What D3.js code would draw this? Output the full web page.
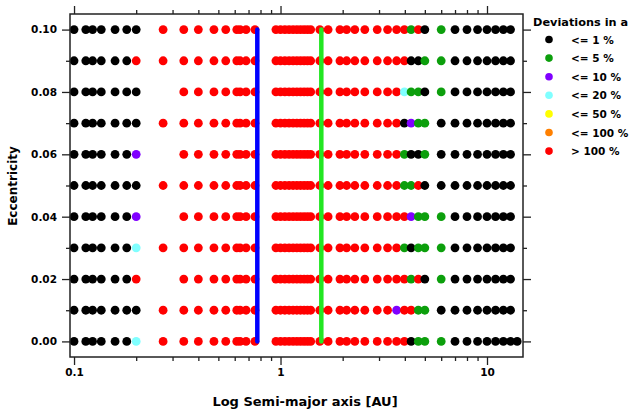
<!DOCTYPE html>
<html>
<head>
<meta charset="utf-8">
<style>
* { margin: 0; padding: 0; }
body { background: #fff; }
svg { display: block; }
text { font-family: "DejaVu Sans", sans-serif; font-weight: bold; fill: #000; }
</style>
</head>
<body>
<div id="chart"></div>
<script src="https://cdn.jsdelivr.net/npm/d3@7"></script>
<script>

// semi-major axis grid [AU]
var semiMajor = [
	0.1, 0.114, 0.123, 0.1355, 0.158, 0.18, 0.2, 0.27,
	0.34, 0.4, 0.476, 0.543, 0.614, 0.637, 0.681, 0.752,
	0.95, 1.0, 1.05, 1.1, 1.15, 1.2, 1.25, 1.3, 1.35, 1.4,
	1.55, 1.7, 1.94, 2.09, 2.29, 2.56, 2.94,
	3.3, 3.65, 3.98, 4.29, 4.65, 5.0, 6.0,
	7, 8, 9, 10, 11, 12, 13, 14
];

var eccentricities = [ 0.00, 0.01, 0.02, 0.03, 0.04, 0.05, 0.06, 0.07, 0.08, 0.09, 0.10 ];

// one code per semi-major value ('|' only groups them), '.' = no point
// k <=1%  g <=5%  p <=10%  c <=20%  y <=50%  o <=100%  r >100%
var rows = [
	'kkkkkkc|r|rrrrrrrr|rrrrrrrrrr|rrrrrrr|rrrkggg|kkkkkkkk',
	'kkkkkkk|r|rrrrrrrr|rrrrrrrrrr|rrrrrrr|rprrggk|kkkkkkk.',
	'kkkkkkr|.|rrrrrrrr|rrrrrrrrrr|rrrrrrr|rrrgrkg|kkkkkkk.',
	'kkkkkkc|r|rrrrrrrr|rrrrrrrrrr|rrrrrrr|rrgkggg|kkkkkkk.',
	'kkkkkkp|.|rrrrrrrr|rrrrrrrrrr|rrrrrrr|rrrpggg|kkkkkkk.',
	'kkkkkkk|r|rrrrrrrr|rrrrrrrrrr|rrrrrrr|rrggrkk|kkkkkkk.',
	'kkkkkkp|.|rrrrrrrr|rrrrrrrrrr|rrrrrrr|rrgkkgk|kkkkkkk.',
	'kkkkkkk|r|rrrrrrrr|rrrrrrrrrr|rrrrrrr|rrkpggk|kkkkkkk.',
	'kkkkkkk|.|rrrrrrrr|rrrrrrrrrr|rrrrrrr|rrcggkg|kkkkkkk.',
	'kkkkkkr|r|rrrrrrrr|rrrrrrrrrr|rrrrrrr|rrrkkgg|kkkkkkk.',
	'kkkkkkk|r|rrrrrrrr|rrrrrrrrrr|rrrrrrr|rrrgrkg|kkkkkkk.'
];

var legendCodes = [ 'k', 'g', 'p', 'c', 'y', 'o', 'r' ];
var legendLabels = [ '<= 1 %', '<= 5 %', '<= 10 %', '<= 20 %', '<= 50 %', '<= 100 %', '> 100 %' ];
var legendColors = [ '#000000', '#0c9f0c', '#8000ff', '#80ffff', '#ffff00', '#ff8000', '#ff0000' ];

// vertical marker lines
var markers = [ { a: 0.772, color: '#0000ff' }, { a: 1.576, color: '#22e622' } ];

var xMajor = [ 0.1, 1, 10 ];
var xMinor = [ 0.2, 0.3, 0.4, 0.5, 0.6, 0.7, 0.8, 0.9, 2, 3, 4, 5, 6, 7, 8, 9 ];
var yMajor = [ 0, 0.02, 0.04, 0.06, 0.08, 0.10 ];
var yMinor = [ 0.01, 0.03, 0.05, 0.07, 0.09 ];

( function () {

var width = 630, height = 409;
var pLeft = 70, pRight = 523, pTop = 14, pBottom = 357;

var color = d3.scaleOrdinal( legendCodes, legendColors );
var x = d3.scaleLog().domain( [ 0.0956, 14.94 ] ).range( [ pLeft, pRight ] );
var y = d3.scaleLinear().domain( [ -0.005, 0.105 ] ).range( [ pBottom, pTop ] );

var svg = d3.select( '#chart' ).append( 'svg' )
	.attr( 'width', width )
	.attr( 'height', height );

var points = [];
rows.forEach( function ( row, i ) {
	row.replace( /\|/g, '' ).split( '' ).forEach( function ( code, j ) {
		if ( code !== '.' && j < semiMajor.length ) {
			points.push( { a: semiMajor[j], e: eccentricities[i], code: code } );
		}
	} );
} );

svg.append( 'g' ).selectAll( 'circle' )
	.data( points )
	.enter()
	.append( 'circle' )
	.attr( 'cx', function ( d ) { return x( d.a ); } )
	.attr( 'cy', function ( d ) { return y( d.e ); } )
	.attr( 'r', 4.4 )
	.style( 'fill', function ( d ) { return color( d.code ); } );

svg.append( 'g' ).selectAll( 'line' )
	.data( markers )
	.enter()
	.append( 'line' )
	.attr( 'x1', function ( d ) { return x( d.a ); } )
	.attr( 'x2', function ( d ) { return x( d.a ); } )
	.attr( 'y1', y( 0.1 ) )
	.attr( 'y2', y( 0 ) )
	.style( 'stroke', function ( d ) { return d.color; } )
	.style( 'stroke-width', 4.5 )
	.style( 'stroke-linecap', 'round' );

// frame
svg.append( 'rect' )
	.attr( 'x', pLeft )
	.attr( 'y', pTop )
	.attr( 'width', pRight - pLeft )
	.attr( 'height', pBottom - pTop )
	.style( 'fill', 'none' )
	.style( 'stroke', '#222' )
	.style( 'stroke-width', 1.5 );

function styleAxis( g ) {
	g.select( '.domain' ).remove();
	g.selectAll( '.tick line' ).style( 'stroke', '#222' ).style( 'stroke-width', 1.3 );
	g.selectAll( 'text' ).style( 'font-size', '10.5px' ).style( 'font-family', '"DejaVu Sans", sans-serif' ).style( 'font-weight', 'bold' ).attr( 'fill', '#000' );
}

var fmtX = d3.format( '~g' );
var fmtY = d3.format( '.2f' );

svg.append( 'g' ).attr( 'transform', 'translate(0,' + pBottom + ')' )
	.call( d3.axisBottom( x ).tickValues( xMajor ).tickSize( 8 ).tickPadding( 4 ).tickFormat( fmtX ) )
	.call( styleAxis );
svg.append( 'g' ).attr( 'transform', 'translate(0,' + pBottom + ')' )
	.call( d3.axisBottom( x ).tickValues( xMinor ).tickSize( 4 ).tickFormat( '' ) )
	.call( styleAxis );
svg.append( 'g' ).attr( 'transform', 'translate(0,' + pTop + ')' )
	.call( d3.axisTop( x ).tickValues( xMajor ).tickSize( 8 ).tickFormat( '' ) )
	.call( styleAxis );
svg.append( 'g' ).attr( 'transform', 'translate(0,' + pTop + ')' )
	.call( d3.axisTop( x ).tickValues( xMinor ).tickSize( 4 ).tickFormat( '' ) )
	.call( styleAxis );

svg.append( 'g' ).attr( 'transform', 'translate(' + pLeft + ',0)' )
	.call( d3.axisLeft( y ).tickValues( yMajor ).tickSize( 8 ).tickPadding( 5 ).tickFormat( fmtY ) )
	.call( styleAxis );
svg.append( 'g' ).attr( 'transform', 'translate(' + pLeft + ',0)' )
	.call( d3.axisLeft( y ).tickValues( yMinor ).tickSize( 4 ).tickFormat( '' ) )
	.call( styleAxis );
svg.append( 'g' ).attr( 'transform', 'translate(' + pRight + ',0)' )
	.call( d3.axisRight( y ).tickValues( yMajor ).tickSize( 8 ).tickFormat( '' ) )
	.call( styleAxis );
svg.append( 'g' ).attr( 'transform', 'translate(' + pRight + ',0)' )
	.call( d3.axisRight( y ).tickValues( yMinor ).tickSize( 4 ).tickFormat( '' ) )
	.call( styleAxis );

// axis titles
svg.append( 'text' )
	.attr( 'x', 305 )
	.attr( 'y', 406 )
	.attr( 'text-anchor', 'middle' )
	.style( 'font-size', '13px' )
	.text( 'Log Semi-major axis [AU]' );

svg.append( 'text' )
	.attr( 'transform', 'translate(17,186) rotate(-90)' )
	.attr( 'text-anchor', 'middle' )
	.style( 'font-size', '12px' )
	.text( 'Eccentricity' );

// legend
var legend = svg.append( 'g' ).attr( 'transform', 'translate(533,0)' );
legend.append( 'text' )
	.attr( 'x', 0 )
	.attr( 'y', 25.5 )
	.style( 'font-size', '11.3px' )
	.text( 'Deviations in a' );

var items = legend.selectAll( 'g.item' )
	.data( legendLabels )
	.enter()
	.append( 'g' )
	.attr( 'class', 'item' )
	.attr( 'transform', function ( d, i ) { return 'translate(0,' + ( 39.5 + i * 18.6 ) + ')'; } );

items.append( 'circle' )
	.attr( 'cx', 16 )
	.attr( 'cy', 0 )
	.attr( 'r', 3.8 )
	.style( 'fill', function ( d, i ) { return legendColors[i]; } );

items.append( 'text' )
	.attr( 'x', 38 )
	.attr( 'y', 4 )
	.style( 'font-size', '10.5px' )
	.text( function ( d ) { return d; } );

} )();

</script>
</body>
</html>
